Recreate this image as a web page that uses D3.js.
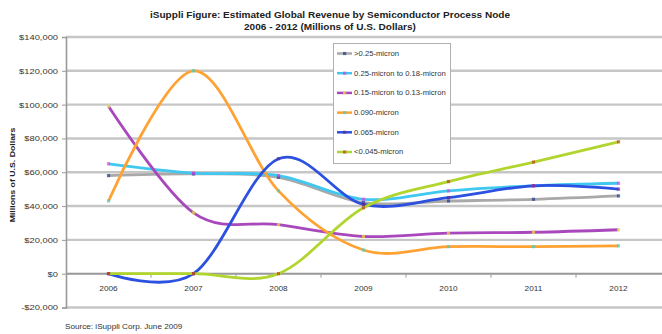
<!DOCTYPE html>
<html>
<head>
<meta charset="utf-8">
<script src="https://cdn.jsdelivr.net/npm/d3@7"></script>
<style>
  html, body { margin: 0; padding: 0; background: #ffffff; }
  svg { display: block; font-family: "Liberation Sans", Arial, sans-serif; }
</style>
</head>
<body>
<svg id="chart" width="662" height="334"></svg>
<script>
// Global semiconductor revenue by process node, millions of U.S. dollars
const years = ["2006", "2007", "2008", "2009", "2010", "2011", "2012"];
const seriesNames = [">0.25-micron", "0.25-micron to 0.18-micron", "0.15-micron to 0.13-micron",
                     "0.090-micron", "0.065-micron", "<0.045-micron"];
const nodeGt025   = [58000, 59000, 57000, 42000, 43000, 44000, 46000];
const node025_018 = [65000, 59500, 58000, 44000, 49000, 52000, 53500];
const node015_013 = [99000, 36000, 29000, 22000, 24000, 24500, 26000];
const node090     = [43000, 120000, 49000, 14000, 16000, 16000, 16500];
const node065     = [0, 0, 68000, 41000, 45000, 52000, 50000];
const nodeLt045   = [0, 0, 0, 39000, 54500, 66000, 78000];
const yTicks = [-20000, 0, 20000, 40000, 60000, 80000, 100000, 120000, 140000];

const lineColors   = ["#a9a9a9", "#40c8f0", "#a848bc", "#ffa234", "#2c50e0", "#b2d52e"];
const markerColors = ["#1f3a93", "#e040e0", "#f0e040", "#40d0c0", "#6a2c8a", "#c04020"];
const allValues = [nodeGt025, node025_018, node015_013, node090, node065, nodeLt045];

// lettering in this chart is set slightly wide
const WIDE = 1.2;

const svg = d3.select("#chart");
const plot = { left: 66, right: 661, top: 37, bottom: 307.5 };

const x = d3.scaleBand().domain(years).range([plot.left, plot.right]);
const y = d3.scaleLinear().domain([-20000, 140000]).range([plot.bottom, plot.top]);

// Horizontal gridlines
svg.append("g").selectAll("line").data(yTicks).join("line")
  .attr("x1", plot.left).attr("x2", 662)
  .attr("y1", d => y(d)).attr("y2", d => y(d))
  .attr("stroke", "#c6c6c6").attr("stroke-width", 2.4);

// Y axis
const fmt = d => (d < 0 ? "-$" : "$") + d3.format(",")(Math.abs(d));
const yAxis = svg.append("g").attr("transform", `translate(${plot.left},0)`)
  .call(d3.axisLeft(y).tickValues(yTicks).tickFormat(fmt).tickSize(4).tickPadding(2.5));
yAxis.select(".domain").attr("stroke", "#9a9a9a").attr("stroke-width", 1.6);
yAxis.selectAll(".tick line").attr("stroke", "#9a9a9a");
yAxis.selectAll("text").attr("font-size", 7.6).attr("fill", "#333")
  .attr("transform", "scale(1.23,1)");

// X axis on the zero line, ticks between categories
const xg = svg.append("g");
xg.append("line").attr("x1", plot.left).attr("x2", 662)
  .attr("y1", y(0)).attr("y2", y(0)).attr("stroke", "#9a9a9a").attr("stroke-width", 1.6);
xg.selectAll("line.tk").data(years.slice(1)).join("line").attr("class", "tk")
  .attr("x1", d => x(d)).attr("x2", d => x(d))
  .attr("y1", y(0)).attr("y2", y(0) + 4).attr("stroke", "#9a9a9a");
xg.selectAll("text").data(years).join("text")
  .attr("transform", d => `translate(${x(d) + x.bandwidth() / 2},${y(0) + 17}) scale(1.12,1)`)
  .attr("text-anchor", "middle").attr("font-size", 7.4).attr("fill", "#333")
  .text(d => d);

// Smoothed series
const line = d3.line()
  .x((d, i) => x(years[i]) + x.bandwidth() / 2)
  .y(d => y(d))
  .curve(d3.curveCardinal.tension(0));

const seriesG = svg.append("g");
allValues.forEach((vals, k) => {
  seriesG.append("path").datum(vals)
    .attr("d", line).attr("fill", "none")
    .attr("stroke", lineColors[k]).attr("stroke-width", 2.8)
    .attr("stroke-linejoin", "round");
});
allValues.forEach((vals, k) => {
  seriesG.append("g").selectAll("rect").data(vals).join("rect")
    .attr("x", (d, i) => x(years[i]) + x.bandwidth() / 2 - 1.6)
    .attr("y", d => y(d) - 1.6)
    .attr("width", 3.2).attr("height", 3.2)
    .attr("fill", markerColors[k]).attr("opacity", 0.7);
});

// Title
const title = svg.append("g").attr("font-weight", "bold").attr("font-size", 8.6).attr("fill", "#222")
  .attr("text-anchor", "middle");
title.append("text").attr("transform", "translate(330,18) scale(1.17,1)")
  .text("iSuppli Figure: Estimated Global Revenue by Semiconductor Process Node");
title.append("text").attr("transform", "translate(330,29.5) scale(1.17,1)")
  .text("2006 - 2012 (Millions of U.S. Dollars)");

// Y axis title
svg.append("text").attr("transform", `translate(15,175) rotate(-90) scale(${WIDE},1)`)
  .attr("text-anchor", "middle").attr("font-size", 7.3).attr("font-weight", "bold").attr("fill", "#222")
  .text("Millions of U.S. Dollars");

// Source note
svg.append("text").attr("transform", `translate(65,329) scale(${WIDE},1)`)
  .attr("font-size", 6.8).attr("fill", "#333")
  .text("Source: iSuppli Corp. June 2009");

// Legend
const legend = svg.append("g");
legend.append("rect").attr("x", 333.5).attr("y", 43.5).attr("width", 117).attr("height", 120)
  .attr("fill", "#fff").attr("stroke", "#b0b0b0").attr("stroke-width", 1);
seriesNames.forEach((name, k) => {
  const ly = 53.5 + k * 19.7;
  legend.append("line").attr("x1", 337).attr("x2", 352).attr("y1", ly).attr("y2", ly)
    .attr("stroke", lineColors[k]).attr("stroke-width", 2.5);
  legend.append("rect").attr("x", 343).attr("y", ly - 1.6).attr("width", 3.2).attr("height", 3.2)
    .attr("fill", markerColors[k]).attr("opacity", 0.7);
  legend.append("text").attr("transform", `translate(354,${ly + 2.3}) scale(1.22,1)`)
    .attr("font-size", 6.3).attr("fill", "#333").text(name);
});
</script>
</body>
</html>
